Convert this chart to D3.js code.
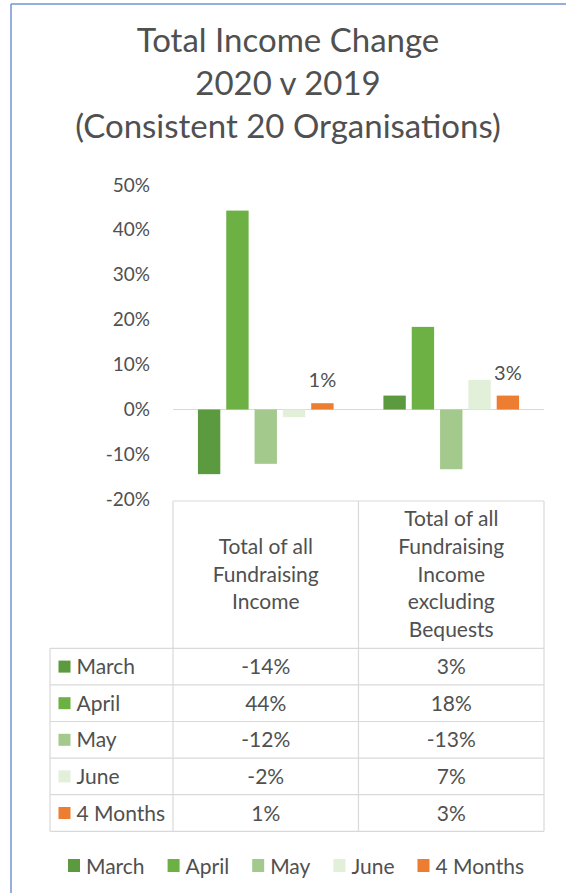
<!DOCTYPE html>
<html>
<head>
<meta charset="utf-8">
<script src="https://cdn.jsdelivr.net/npm/d3@7"></script>
<style>
	body { margin: 0; background: #fff; }
	text { font-family: Lato, "Open Sans", sans-serif; fill: #505050; }
</style>
</head>
<body>
<div id="chart-bg"></div>
<script>
// values
var titleLines = ["Total Income Change", "2020 v 2019", "(Consistent 20 Organisations)"];
var months = ["March", "April", "May", "June", "4 Months"];
var groups = ["Total of all Fundraising Income", "Total of all Fundraising Income excluding Bequests"];
var headerLines = [
	["Total of all", "Fundraising", "Income"],
	["Total of all", "Fundraising", "Income", "excluding", "Bequests"]
];
var allIncome = [-14.4, 44.3, -12.1, -1.7, 1.4];
var exBequests = [3.1, 18.4, -13.3, 6.6, 3.1];
var yTicks = [-20, -10, 0, 10, 20, 30, 40, 50];
var labelled = ["4 Months"];

var series = [allIncome, exBequests];

var w = 566;
var h = 893;

var color = d3.scaleOrdinal().
	domain(months).
	range(["#5b9a3f", "#6db145", "#a3c98d", "#e2efd9", "#ed7d31"]);

var x0 = d3.scaleBand().domain(groups).range([173, 544]);
var x1 = d3.scaleBand().
	domain(months).
	range([0, x0.bandwidth()]).
	paddingInner(0.21).
	paddingOuter(0.88);
var y = d3.scaleLinear().domain([-20, 50]).range([499.3, 185]);
// plain hyphen, as in the original
var pct = function (v) {return Math.round(v) + "%";};

var svg = d3.
	select("#chart-bg").
	append("svg").
	attr("width", w).
	attr("height", h);

// frame
svg.append("line").attr("x1", 11).attr("x2", w).attr("y1", 4).attr("y2", 4).
	attr("stroke", "#7393d3").attr("stroke-width", 1.5);
svg.append("line").attr("x1", 11).attr("x2", 11).attr("y1", 4).attr("y2", h).
	attr("stroke", "#7393d3").attr("stroke-width", 1.5);

// title
svg.
	append("g").
	selectAll("text").
	data(titleLines).
	enter().
	append("text").
	attr("x", 288).
	attr("y", function (d, i) {return 52 + i * 43;}).
	attr("text-anchor", "middle").
	style("font-size", "33px").
	text(function (d) {return d;});

// y axis
var yAxis = d3.axisLeft(y).tickValues(yTicks).tickFormat(function (d) {return d + "%";}).tickSize(0).tickPadding(0);
var gy = svg.append("g").attr("transform", "translate(150,0)").call(yAxis);
gy.select(".domain").remove();
gy.selectAll("text").style("font-size", "19px").attr("fill", "#505050").attr("font-family", "Lato");

// zero line
svg.append("line").
	attr("x1", x0.range()[0]).attr("x2", x0.range()[1]).
	attr("y1", y(0)).attr("y2", y(0)).
	attr("stroke", "#d9d9d9").attr("stroke-width", 1.2);

// bars
var gGroups = svg.
	selectAll("g.group").
	data(groups).
	enter().
	append("g").
	attr("class", "group").
	attr("transform", function (d) {return "translate(" + x0(d) + ",0)";});

gGroups.
	selectAll("rect").
	data(function (d, gi) {return months.map(function (m, i) {return {m: m, v: series[gi][i]};});}).
	enter().
	append("rect").
	attr("x", function (d) {return x1(d.m);}).
	attr("width", x1.bandwidth()).
	attr("y", function (d) {return y(Math.max(0, d.v));}).
	attr("height", function (d) {return Math.abs(y(d.v) - y(0));}).
	attr("fill", function (d) {return color(d.m);});

gGroups.
	selectAll("text.lbl").
	data(function (d, gi) {
		return months.map(function (m, i) {return {m: m, v: series[gi][i]};}).
			filter(function (d) {return labelled.indexOf(d.m) >= 0;});
	}).
	enter().
	append("text").
	attr("class", "lbl").
	attr("x", function (d) {return x1(d.m) + x1.bandwidth() / 2;}).
	attr("y", function (d) {return y(d.v) - 16;}).
	attr("text-anchor", "middle").
	style("font-size", "20px").
	text(function (d) {return pct(d.v);});

// data table
var tTop = 501;
var hTop = 648.3;
var rowH = 36.6;
var tLeft = 50;
var tRight = x0.range()[1];
var tBottom = hTop + rowH * months.length;
var grid = svg.append("g").attr("stroke", "#d9d9d9").attr("stroke-width", 1.2);

grid.append("line").attr("x1", x0.range()[0]).attr("x2", tRight).attr("y1", tTop).attr("y2", tTop);
d3.range(months.length + 1).forEach(function (i) {
	grid.append("line").attr("x1", tLeft).attr("x2", tRight).
		attr("y1", hTop + i * rowH).attr("y2", hTop + i * rowH);
});
grid.append("line").attr("x1", tLeft).attr("x2", tLeft).attr("y1", hTop).attr("y2", tBottom);
groups.concat([null]).forEach(function (g) {
	var xx = g === null ? tRight : x0(g);
	grid.append("line").attr("x1", xx).attr("x2", xx).attr("y1", tTop).attr("y2", tBottom);
});

// header
groups.forEach(function (g, gi) {
	var lines = headerLines[gi];
	var mid = (tTop + hTop) / 2;
	svg.
		append("g").
		selectAll("text").
		data(lines).
		enter().
		append("text").
		attr("x", x0(g) + x0.bandwidth() / 2).
		attr("y", function (d, i) {return mid + (i - (lines.length - 1) / 2) * 27.8 + 7;}).
		attr("text-anchor", "middle").
		style("font-size", "21px").
		text(function (d) {return d;});
});

// rows
var rows = svg.
	selectAll("g.row").
	data(months).
	enter().
	append("g").
	attr("class", "row").
	attr("transform", function (d, i) {return "translate(0," + (hTop + i * rowH + rowH / 2) + ")";});

rows.append("rect").
	attr("x", 58.5).attr("y", -6).attr("width", 12).attr("height", 12).
	attr("fill", function (d) {return color(d);});
rows.append("text").
	attr("x", 76.5).attr("y", 7.5).
	style("font-size", "21px").
	text(function (d) {return d;});

groups.forEach(function (g, gi) {
	rows.append("text").
		attr("x", x0(g) + x0.bandwidth() / 2).
		attr("y", 7.5).
		attr("text-anchor", "middle").
		style("font-size", "21px").
		text(function (d, i) {return pct(series[gi][i]);});
});

// legend
var legend = svg.append("g").attr("transform", "translate(68,866)");
var lx = 0;
months.forEach(function (m) {
	var item = legend.append("g").attr("transform", "translate(" + lx + ",0)");
	item.append("rect").attr("x", 0).attr("y", -7).attr("width", 12).attr("height", 13).attr("fill", color(m));
	var t = item.append("text").attr("x", 18).attr("y", 7.5).style("font-size", "21px").text(m);
	lx += 18 + t.node().getComputedTextLength() + 23;
});
</script>
</body>
</html>
